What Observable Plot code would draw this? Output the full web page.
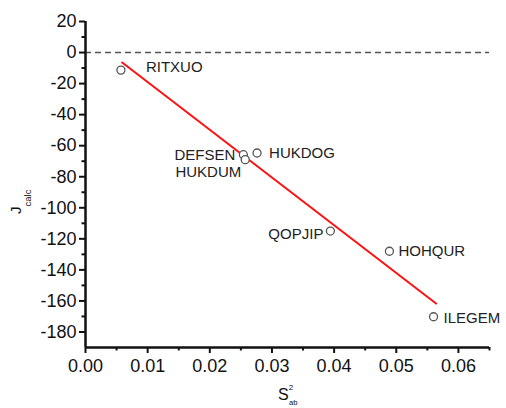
<!DOCTYPE html>
<html>
<head>
<meta charset="utf-8">
<script src="https://cdn.jsdelivr.net/npm/d3@7"></script>
<script src="https://cdn.jsdelivr.net/npm/@observablehq/plot@0.6"></script>
<style>
  html, body { margin: 0; padding: 0; background: #fff; }
  #chart { width: 506px; height: 408px; }
</style>
</head>
<body>
<div id="chart"></div>
<script>
// ---- data ----
const names = ["RITXUO", "DEFSEN", "HUKDUM", "HUKDOG", "QOPJIP", "HOHQUR", "ILEGEM"];
const s2ab  = [0.0057, 0.0254, 0.0257, 0.0276, 0.0394, 0.0489, 0.0560];
const jcalc = [-11.3, -65.8, -69.0, -64.7, -115.0, -128.0, -170.2];
const fitX = [0.0059, 0.0564];
const fitY = [-6.4, -161.7];
const xMajorTicks = [0, 0.01, 0.02, 0.03, 0.04, 0.05, 0.06];
const xMinorTicks = [0.005, 0.015, 0.025, 0.035, 0.045, 0.055, 0.065];
const yMajorTicks = [20, 0, -20, -40, -60, -80, -100, -120, -140, -160, -180];
const yMinorTicks = [10, -10, -30, -50, -70, -90, -110, -130, -150, -170];

const points = names.map((n, i) => ({name: n, x: s2ab[i], y: jcalc[i]}));
const fit = fitX.map((x, i) => ({x, y: fitY[i]}));

// label placement relative to points
const labelPlace = {
  RITXUO: {textAnchor: "start", dx: 25, dy: -3},
  DEFSEN: {textAnchor: "end", dx: -8, dy: 0},
  HUKDUM: {textAnchor: "end", dx: -4, dy: 13},
  HUKDOG: {textAnchor: "start", dx: 12, dy: 0},
  QOPJIP: {textAnchor: "end", dx: -7, dy: 3},
  HOHQUR: {textAnchor: "start", dx: 9, dy: 0},
  ILEGEM: {textAnchor: "start", dx: 10, dy: 1}
};

const font = "'Liberation Sans', Arial, sans-serif";

const plot = Plot.plot({
  width: 506,
  height: 408,
  marginLeft: 85,
  marginRight: 17,
  marginTop: 21,
  marginBottom: 61,
  style: {fontFamily: font, background: "#fff", color: "#111", overflow: "visible"},
  x: {domain: [0, 0.065], axis: null},
  y: {domain: [-190, 20], axis: null},
  marks: [
    Plot.ruleY([0], {stroke: "#555", strokeWidth: 1.5, strokeDasharray: "6,4"}),
    Plot.axisX({ticks: xMinorTicks, tickSize: 3.5, tickFormat: () => "", strokeWidth: 2, label: null}),
    Plot.axisX({ticks: xMajorTicks, tickSize: 6, tickPadding: 6, tickFormat: d => d.toFixed(2),
                fontSize: 18, strokeWidth: 2, label: null}),
    Plot.axisY({ticks: yMinorTicks, tickSize: 3.5, tickFormat: () => "", strokeWidth: 2, label: null}),
    Plot.axisY({ticks: yMajorTicks, tickSize: 6, tickPadding: 3, tickFormat: d => String(d),
                fontSize: 18, strokeWidth: 2, label: null}),
    Plot.ruleX([0], {y1: -190, y2: 20, stroke: "#111", strokeWidth: 2.5}),
    Plot.ruleY([-190], {x1: 0, x2: 0.065, stroke: "#111", strokeWidth: 2.5}),
    Plot.line(fit, {x: "x", y: "y", stroke: "#ff1010", strokeWidth: 2}),
    Plot.dot(points, {x: "x", y: "y", r: 4, stroke: "#555", strokeWidth: 1.3, fill: "#fff"}),
    ...points.map(p => Plot.text([p], {
      x: "x", y: "y", text: "name", fontSize: 15, fill: "#222",
      ...labelPlace[p.name]
    }))
  ]
});

document.getElementById("chart").appendChild(plot);

// axis titles with sub/superscripts
const svg = d3.select(plot);
const yl = svg.append("text")
  .attr("transform", "translate(21,214) rotate(-90)")
  .attr("text-anchor", "start")
  .attr("fill", "#111")
  .style("font-family", font);
yl.append("tspan").attr("font-size", 15).text("J");
yl.append("tspan").attr("font-size", 9.5).attr("dy", 10).text("calc");

const xl = svg.append("text")
  .attr("x", 278)
  .attr("y", 400)
  .attr("text-anchor", "start")
  .attr("fill", "#111")
  .style("font-family", font);
xl.append("tspan").attr("font-size", 16).text("S");
xl.append("tspan").attr("font-size", 8).attr("dy", -10).text("2");
xl.append("tspan").attr("font-size", 7.5).attr("x", 289).attr("dy", 15).text("ab");
</script>
</body>
</html>
